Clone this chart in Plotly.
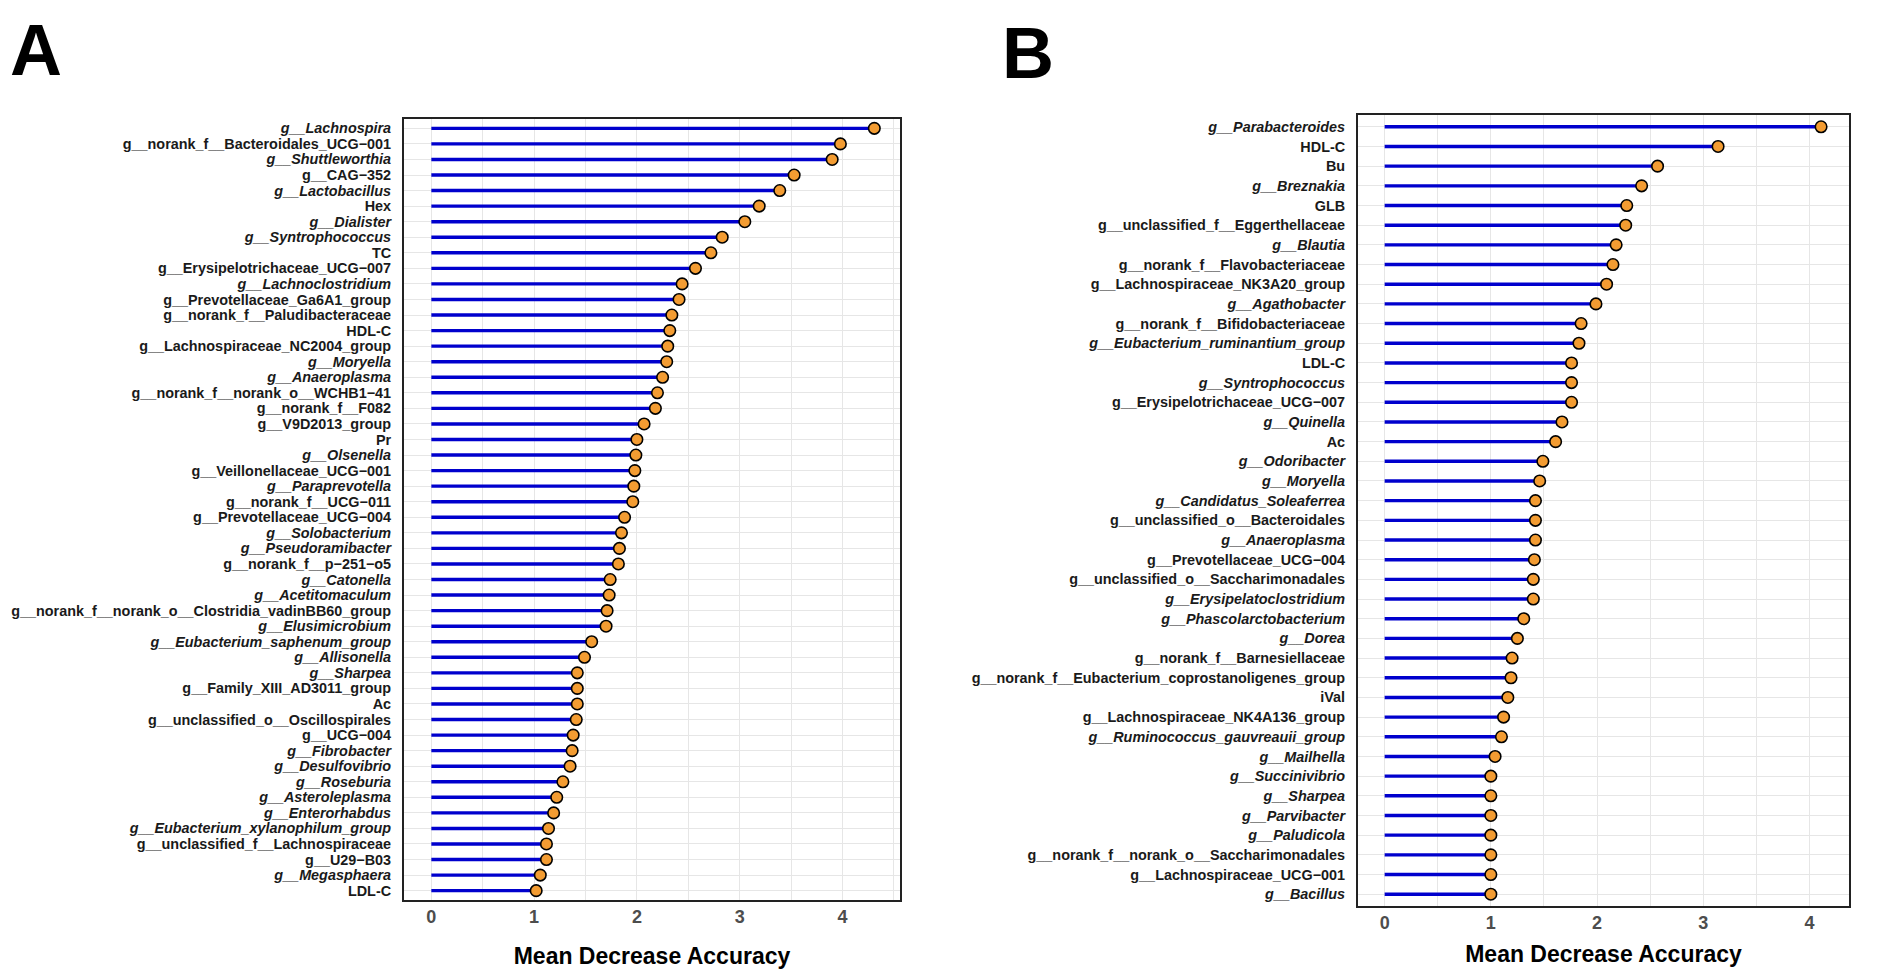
import plotly.graph_objects as go

# ---- panel A (top to bottom, as drawn) ----
features_a = [
    "g__Lachnospira", "g__norank_f__Bacteroidales_UCG−001", "g__Shuttleworthia",
    "g__CAG−352", "g__Lactobacillus", "Hex", "g__Dialister", "g__Syntrophococcus",
    "TC", "g__Erysipelotrichaceae_UCG−007", "g__Lachnoclostridium",
    "g__Prevotellaceae_Ga6A1_group", "g__norank_f__Paludibacteraceae", "HDL-C",
    "g__Lachnospiraceae_NC2004_group", "g__Moryella", "g__Anaeroplasma",
    "g__norank_f__norank_o__WCHB1−41", "g__norank_f__F082", "g__V9D2013_group", "Pr",
    "g__Olsenella", "g__Veillonellaceae_UCG−001", "g__Paraprevotella",
    "g__norank_f__UCG−011", "g__Prevotellaceae_UCG−004", "g__Solobacterium",
    "g__Pseudoramibacter", "g__norank_f__p−251−o5", "g__Catonella", "g__Acetitomaculum",
    "g__norank_f__norank_o__Clostridia_vadinBB60_group", "g__Elusimicrobium",
    "g__Eubacterium_saphenum_group", "g__Allisonella", "g__Sharpea",
    "g__Family_XIII_AD3011_group", "Ac", "g__unclassified_o__Oscillospirales",
    "g__UCG−004", "g__Fibrobacter", "g__Desulfovibrio", "g__Roseburia",
    "g__Asteroleplasma", "g__Enterorhabdus", "g__Eubacterium_xylanophilum_group",
    "g__unclassified_f__Lachnospiraceae", "g__U29−B03", "g__Megasphaera", "LDL-C",
]
mda_a = [
    4.31, 3.98, 3.90, 3.53, 3.39, 3.19, 3.05, 2.83, 2.72, 2.57,
    2.44, 2.41, 2.34, 2.32, 2.30, 2.29, 2.25, 2.20, 2.18, 2.07,
    2.00, 1.99, 1.98, 1.97, 1.96, 1.88, 1.85, 1.83, 1.82, 1.74,
    1.73, 1.71, 1.70, 1.56, 1.49, 1.42, 1.42, 1.42, 1.41, 1.38,
    1.37, 1.35, 1.28, 1.22, 1.19, 1.14, 1.12, 1.12, 1.06, 1.02,
]
italic_a = {
    "g__Lachnospira", "g__Shuttleworthia", "g__Lactobacillus", "g__Dialister",
    "g__Syntrophococcus", "g__Lachnoclostridium", "g__Moryella", "g__Anaeroplasma",
    "g__Olsenella", "g__Paraprevotella", "g__Solobacterium", "g__Pseudoramibacter",
    "g__Catonella", "g__Acetitomaculum", "g__Elusimicrobium",
    "g__Eubacterium_saphenum_group", "g__Allisonella", "g__Sharpea", "g__Fibrobacter",
    "g__Desulfovibrio", "g__Roseburia", "g__Asteroleplasma", "g__Enterorhabdus",
    "g__Eubacterium_xylanophilum_group", "g__Megasphaera",
}

# ---- panel B ----
features_b = [
    "g__Parabacteroides", "HDL-C", "Bu", "g__Breznakia", "GLB",
    "g__unclassified_f__Eggerthellaceae", "g__Blautia", "g__norank_f__Flavobacteriaceae",
    "g__Lachnospiraceae_NK3A20_group", "g__Agathobacter", "g__norank_f__Bifidobacteriaceae",
    "g__Eubacterium_ruminantium_group", "LDL-C", "g__Syntrophococcus",
    "g__Erysipelotrichaceae_UCG−007", "g__Quinella", "Ac", "g__Odoribacter",
    "g__Moryella", "g__Candidatus_Soleaferrea", "g__unclassified_o__Bacteroidales",
    "g__Anaeroplasma", "g__Prevotellaceae_UCG−004", "g__unclassified_o__Saccharimonadales",
    "g__Erysipelatoclostridium", "g__Phascolarctobacterium", "g__Dorea",
    "g__norank_f__Barnesiellaceae", "g__norank_f__Eubacterium_coprostanoligenes_group",
    "iVal", "g__Lachnospiraceae_NK4A136_group", "g__Ruminococcus_gauvreauii_group",
    "g__Mailhella", "g__Succinivibrio", "g__Sharpea", "g__Parvibacter", "g__Paludicola",
    "g__norank_f__norank_o__Saccharimonadales", "g__Lachnospiraceae_UCG−001", "g__Bacillus",
]
mda_b = [
    4.11, 3.14, 2.57, 2.42, 2.28, 2.27, 2.18, 2.15, 2.09, 1.99,
    1.85, 1.83, 1.76, 1.76, 1.76, 1.67, 1.61, 1.49, 1.46, 1.42,
    1.42, 1.42, 1.41, 1.40, 1.40, 1.31, 1.25, 1.20, 1.19, 1.16,
    1.12, 1.10, 1.04, 1.00, 1.00, 1.00, 1.00, 1.00, 1.00, 1.00,
]
italic_b = {
    "g__Parabacteroides", "g__Breznakia", "g__Blautia", "g__Agathobacter",
    "g__Eubacterium_ruminantium_group", "g__Syntrophococcus", "g__Quinella",
    "g__Odoribacter", "g__Moryella", "g__Candidatus_Soleaferrea", "g__Anaeroplasma",
    "g__Erysipelatoclostridium", "g__Phascolarctobacterium", "g__Dorea",
    "g__Ruminococcus_gauvreauii_group", "g__Mailhella", "g__Succinivibrio",
    "g__Sharpea", "g__Parvibacter", "g__Paludicola", "g__Bacillus",
}

x_ticks = [0, 1, 2, 3, 4]

STEM = "#0000CD"
DOT = "#F39C32"
GRID = "#E6E6E6"
FONT = "Liberation Sans"

# the html page has an 8px body margin, so the figure is a bit smaller than the window
PAD = 8
W, H = 1902 - 2 * PAD, 980 - 2 * PAD


def px_x(p):
    return (p - PAD) / W


def px_y(p):
    return 1 - (p - PAD) / H


def label(name, italics):
    return f"<i>{name}</i>" if name in italics else name


def add_lollipop(fig, names, values, italics, xa, ya):
    cats = [label(n, italics) for n in names]
    xs, ys = [], []
    for c, v in zip(cats, values):
        xs += [0, v, None]
        ys += [c, c, None]
    fig.add_trace(go.Scatter(x=xs, y=ys, mode="lines", xaxis=xa, yaxis=ya,
                             line=dict(color=STEM, width=3.4), hoverinfo="skip",
                             showlegend=False))
    fig.add_trace(go.Scatter(x=values, y=cats, mode="markers", xaxis=xa, yaxis=ya,
                             marker=dict(color=DOT, size=11.5,
                                         line=dict(color="black", width=1.6)),
                             showlegend=False))
    return cats


fig = go.Figure()
cats_a = add_lollipop(fig, features_a, mda_a, italic_a, "x", "y")
cats_b = add_lollipop(fig, features_b, mda_b, italic_b, "x2", "y2")


def xaxis(left, right, rng, anchor, standoff):
    return dict(
        domain=[px_x(left), px_x(right)], range=rng, tickvals=x_ticks, anchor=anchor,
        showgrid=True, gridcolor=GRID, gridwidth=1.3, zeroline=False,
        minor=dict(dtick=0.5, tick0=0, showgrid=True, gridcolor=GRID, gridwidth=1),
        showline=True, mirror=True, linecolor="#222222", linewidth=2,
        ticks="", ticklabelstandoff=-1,
        tickfont=dict(family=FONT, size=18, color="#4D4D4D", weight="bold"),
        title=dict(text="Mean Decrease Accuracy", standoff=standoff,
                   font=dict(family=FONT, size=23, color="black", weight="bold")),
        automargin=False, fixedrange=True,
    )


def yaxis(top, bottom, cats, anchor):
    n = len(cats)
    return dict(
        domain=[px_y(bottom), px_y(top)], type="category", anchor=anchor,
        categoryorder="array", categoryarray=cats, range=[n - 0.4, -0.6],
        tickmode="linear", tick0=0, dtick=1,
        showgrid=True, gridcolor=GRID, gridwidth=1.3, zeroline=False,
        showline=True, mirror=True, linecolor="#222222", linewidth=2,
        ticks="", ticklabelstandoff=8,
        tickfont=dict(family=FONT, size=14.4, color="#1A1A1A", weight="bold"),
        automargin=False, fixedrange=True,
    )


fig.update_layout(
    width=W, height=H, margin=dict(l=0, r=0, t=0, b=0),
    plot_bgcolor="white", paper_bgcolor="white",
    xaxis=xaxis(404, 900, [-0.266, 4.56], "y", 22),
    yaxis=yaxis(119, 900, cats_a, "x"),
    xaxis2=xaxis(1358, 1849, [-0.251, 4.373], "y2", 14),
    yaxis2=yaxis(115, 906, cats_b, "x2"),
    annotations=[
        dict(text="<b>A</b>", x=0, y=1, xref="paper", yref="paper",
             xanchor="left", yanchor="top", showarrow=False,
             font=dict(family=FONT, size=72, color="black")),
        dict(text="<b>B</b>", x=992 / W, y=1 - 3 / H, xref="paper", yref="paper",
             xanchor="left", yanchor="top", showarrow=False,
             font=dict(family=FONT, size=72, color="black")),
    ],
)

fig.write_html("out.html")
